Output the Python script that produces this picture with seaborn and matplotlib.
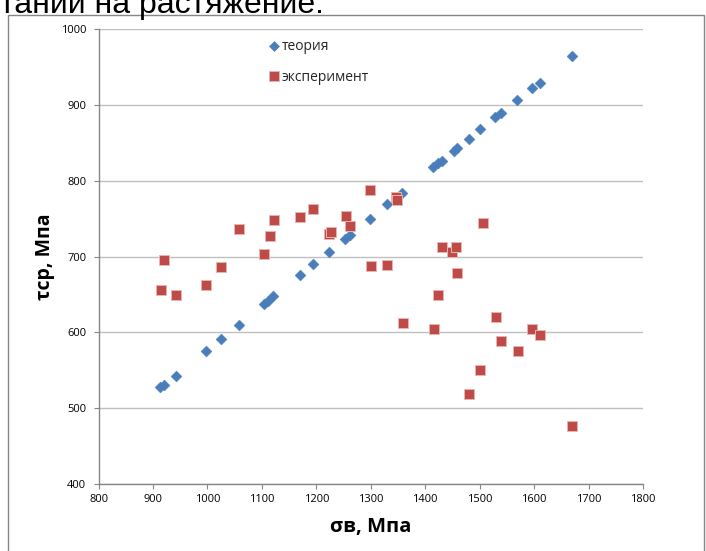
import matplotlib
matplotlib.use("Agg")
import matplotlib.pyplot as plt
import seaborn as sns
import pandas as pd
from matplotlib.lines import Line2D
from matplotlib.patches import Rectangle

# Ultimate tensile strength σв (MPa) vs. shear strength τср (MPa)
sigma_theory = [913, 921, 942, 997, 1025, 1057, 1103, 1112, 1121, 1170, 1193,
                1224, 1253, 1262, 1298, 1330, 1357, 1415, 1424, 1430, 1452,
                1458, 1480, 1501, 1528, 1540, 1569, 1597, 1611, 1669]
tau_theory = [528, 531, 543, 575, 591, 610, 637, 642, 648, 676, 690,
              706, 723, 728, 750, 769, 784, 818, 823, 826, 840,
              843, 855, 868, 884, 890, 907, 922, 929, 965]

sigma_exp = [915, 921, 942, 997, 1025, 1057, 1104, 1115, 1123, 1170, 1193,
             1224, 1227, 1254, 1262, 1298, 1300, 1330, 1346, 1348, 1359,
             1417, 1424, 1430, 1450, 1456, 1458, 1481, 1501, 1506, 1530,
             1540, 1570, 1597, 1610, 1669]
tau_exp = [656, 696, 650, 662, 687, 736, 704, 727, 749, 752, 763,
           730, 732, 754, 741, 788, 688, 689, 779, 775, 612,
           604, 650, 713, 706, 713, 679, 519, 551, 744, 621,
           589, 576, 605, 596, 477]

series_names = ["теория", "эксперимент"]
x_ticks = [800, 900, 1000, 1100, 1200, 1300, 1400, 1500, 1600, 1700, 1800]
y_ticks = [400, 500, 600, 700, 800, 900, 1000]
x_label = "σв, Мпа"
y_label = "τср, Мпа"
caption = "тании на растяжение."

blue = "#4A7EBB"
red = "#BE4B48"
axis_grey = "#868686"
grid_grey = "#C0C0C0"

sns.set_theme(style="white")
plt.rcParams["font.family"] = ["Open Sans", "DejaVu Sans"]

W, H = 706, 551
fig = plt.figure(figsize=(W / 100, H / 100), dpi=100)
ax = fig.add_axes([98.6 / W, 1 - 484 / H, (643 - 98.6) / W, (484 - 29.3) / H])

theory_df = pd.DataFrame({"sigma": sigma_theory, "tau": tau_theory})
exp_df = pd.DataFrame({"sigma": sigma_exp, "tau": tau_exp})

sns.scatterplot(data=theory_df, x="sigma", y="tau", marker="D", s=30,
                color=blue, edgecolor=blue, linewidth=0.4, ax=ax,
                legend=False, zorder=3)
sns.scatterplot(data=exp_df, x="sigma", y="tau", marker="s", s=58,
                color=red, edgecolor="#E8B4B2", linewidth=0.7, ax=ax,
                legend=False, zorder=4)

ax.set_xlim(x_ticks[0], x_ticks[-1])
ax.set_ylim(y_ticks[0], y_ticks[-1])
ax.set_xticks(x_ticks)
ax.set_yticks(y_ticks)
ax.set_xticklabels([str(v) for v in x_ticks])
ax.set_yticklabels([str(v) for v in y_ticks])

ax.yaxis.grid(True, color=grid_grey, linewidth=1.0)
ax.xaxis.grid(False)
ax.set_axisbelow(True)
for side in ("top", "right"):
    ax.spines[side].set_visible(False)
for side in ("left", "bottom"):
    ax.spines[side].set_color(axis_grey)
    ax.spines[side].set_linewidth(1.0)

ax.tick_params(axis="both", direction="out", length=3.8, width=0.8,
               color=axis_grey, labelsize=8, labelcolor="black")
ax.tick_params(axis="x", pad=3.5, bottom=True)
ax.tick_params(axis="y", pad=5, left=True)

ax.set_xlabel(x_label, fontsize=14.5, fontweight="bold", color="black")
ax.set_ylabel(y_label, fontsize=14, fontweight="bold", color="black")
ax.xaxis.set_label_coords(0.5, -0.0946)
ax.xaxis.label.set_va("center")
ax.yaxis.set_label_coords(-0.0985, 0.5)
ax.yaxis.label.set_va("center")

handles = [
    Line2D([], [], linestyle="none", marker="D", markersize=5.4,
           markerfacecolor=blue, markeredgecolor=blue, markeredgewidth=0.4),
    Line2D([], [], linestyle="none", marker="s", markersize=7.6,
           markerfacecolor=red, markeredgecolor="#E8B4B2", markeredgewidth=0.7),
]
ax.legend(handles, series_names, loc="upper left",
          bbox_to_anchor=(268 / W, 1 - 39.5 / H), bbox_transform=fig.transFigure,
          frameon=False, fontsize=10, handlelength=0.8, handletextpad=0.2,
          labelspacing=1.14, borderpad=0, borderaxespad=0)

# Chart frame and the surrounding document line
fig.add_artist(Rectangle((7.5 / W, -0.05), (703.5 - 7.5) / W, 1.05 - 15.5 / H,
                         transform=fig.transFigure, fill=False,
                         edgecolor=axis_grey, linewidth=1.0))
fig.text(0.0, 1 - 12.5 / H, caption, fontsize=23, va="baseline", ha="left",
         family=["Liberation Sans", "DejaVu Sans"], color="black")

fig.savefig("out.png", dpi=100)
